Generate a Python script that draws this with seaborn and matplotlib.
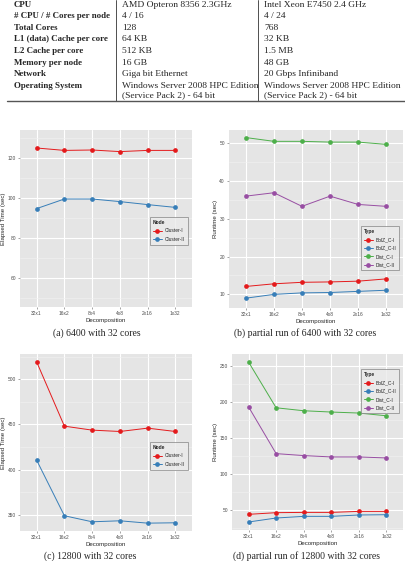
# cluster spec table + 4 runtime panels (ggplot look)

import seaborn as sns
import matplotlib.pyplot as plt
import pandas as pd
from matplotlib.ticker import MultipleLocator
from matplotlib.lines import Line2D

# ---- data ----
spec_names = ['CPU', '# CPU / # Cores per node', 'Total Cores', 'L1 (data) Cache per core',
              'L2 Cache per core', 'Memory per node', 'Network', 'Operating System']
spec_c1 = ['AMD Opteron 8356 2.3GHz', '4 / 16', '128', '64 KB', '512 KB', '16 GB',
           'Giga bit Ethernet', 'Windows Server 2008 HPC Edition\n(Service Pack 2) - 64 bit']
spec_c2 = ['Intel Xeon E7450 2.4 GHz', '4 / 24', '768', '32 KB', '1.5 MB', '48 GB',
           '20 Gbps Infiniband', 'Windows Server 2008 HPC Edition\n(Service Pack 2) - 64 bit']

decomp = ['32x1', '16x2', '8x4', '4x8', '2x16', '1x32']
nodes = ['Cluster-I', 'Cluster-II']
types = ['BolZ_C-I', 'BolZ_C-II', 'Dist_C-I', 'Dist_C-II']

a_c1 = [125.0, 123.8, 124.0, 123.2, 123.8, 123.8]
a_c2 = [94.7, 99.5, 99.5, 98.2, 96.7, 95.3]

b_bolz1 = [12.1, 12.8, 13.2, 13.3, 13.5, 14.1]
b_bolz2 = [9.0, 10.0, 10.4, 10.5, 10.8, 11.1]
b_dist1 = [51.5, 50.5, 50.5, 50.3, 50.3, 49.7]
b_dist2 = [36.0, 36.9, 33.3, 36.0, 33.8, 33.3]

c_c1 = [519.3, 448.1, 443.7, 442.2, 445.9, 442.2]
c_c2 = [410.4, 348.9, 342.2, 343.3, 340.7, 341.1]

d_bolz1 = [44.5, 46.8, 47.2, 47.2, 48.6, 48.6]
d_bolz2 = [33.9, 39.4, 41.7, 41.7, 43.6, 44.0]
d_dist1 = [255.5, 192.1, 188.0, 186.2, 184.8, 181.0]
d_dist2 = [193.4, 128.6, 125.9, 124.0, 124.0, 122.6]

set1 = ['#E41A1C', '#377EB8', '#4DAF4A', '#984EA3']

sns.set_style('darkgrid', {'axes.facecolor': '#E5E5E5', 'grid.color': 'white'})
plt.rcParams['font.family'] = ['Liberation Sans', 'DejaVu Sans']

W, H = 406, 561
fig = plt.figure(figsize=(W / 100, H / 100), dpi=100)
SERIF = ['Liberation Serif', 'DejaVu Serif']


def px(l, r, t, b):
    return [l / W, 1 - b / H, (r - l) / W, (b - t) / H]


# ---- table ----
tab = fig.add_axes([0, 1 - 105 / H, 1, 105 / H])
tab.set_xlim(0, W)
tab.set_ylim(105, 0)
tab.axis('off')
for i, name in enumerate(spec_names):
    y = 4.6 + i * 11.6
    tab.text(14, y, name, ha='left', va='center', fontsize=6.4, fontweight='bold', family=SERIF)
    for x, val in [(122, spec_c1[i]), (264, spec_c2[i])]:
        for j, line in enumerate(val.split('\n')):
            tab.text(x, y + j * 9.4, line, ha='left', va='center', fontsize=6.8, family=SERIF)
tab.add_line(Line2D([116, 116], [0, 100.5], color='#333333', lw=0.6))
tab.add_line(Line2D([258, 258], [0, 100.5], color='#333333', lw=0.6))
tab.add_line(Line2D([7, W], [100.5, 100.5], color='#555555', lw=1.0))


# ---- panels ----
def panel(rect, series, names, colors, title, ylabel, ylim, major, leg_xy, caption, cap_xy):
    df = pd.DataFrame({'Decomposition': decomp * len(series),
                       'value': [v for s in series for v in s],
                       title: [n for n in names for _ in decomp]})
    ax = fig.add_axes(rect)
    sns.lineplot(data=df, x='Decomposition', y='value', hue=title, hue_order=names,
                 palette=colors, marker='o', markersize=3.4, markeredgewidth=0,
                 linewidth=0.7, sort=False, ax=ax)
    ax.set_xlim(-0.6, 5.6)
    ax.set_ylim(*ylim)
    ax.yaxis.set_major_locator(MultipleLocator(major))
    ax.yaxis.set_minor_locator(MultipleLocator(major / 2))
    ax.grid(which='major', color='white', lw=0.8)
    ax.grid(which='minor', axis='y', color='#F2F2F2', lw=0.4)
    for s in ax.spines.values():
        s.set_visible(False)
    ax.tick_params(which='major', length=1.5, width=0.5, color='#7F7F7F', pad=1.5,
                   labelsize=3.5, labelcolor='#4D4D4D', bottom=True, left=True)
    ax.tick_params(which='minor', length=0)
    ax.set_xlabel('Decomposition', fontsize=4.4, labelpad=1)
    ax.set_ylabel(ylabel, fontsize=4.4, labelpad=1)
    leg = ax.legend(title=title, loc='upper left', bbox_to_anchor=leg_xy, borderaxespad=0,
                    fontsize=3.5, title_fontsize=3.5, frameon=True, fancybox=False,
                    handlelength=1.8, handletextpad=0.6, labelspacing=0.7,
                    borderpad=0.6, alignment='left')
    leg.get_title().set_fontweight('bold')
    leg.get_frame().set_facecolor('#EBEBEB')
    leg.get_frame().set_edgecolor('#7F7F7F')
    leg.get_frame().set_linewidth(0.6)
    fig.text(cap_xy[0] / W, 1 - cap_xy[1] / H, caption, ha='center', va='center',
             fontsize=7, family=SERIF)
    return ax


panel(px(20, 192, 130, 307), [a_c1, a_c2], nodes, set1[:2], 'Node',
      'Elapsed Time (sec)', (45.5, 134), 20, (0.756, 0.508),
      '(a) 6400 with 32 cores', (97, 333))
panel(px(229, 403, 130, 308), [b_bolz1, b_bolz2, b_dist1, b_dist2], types, set1, 'Type',
      'Runtime (sec)', (6.4, 53.5), 10, (0.759, 0.461),
      '(b) partial run of 6400 with 32 cores', (305, 333))
panel(px(20, 192, 354, 531), [c_c1, c_c2], nodes, set1[:2], 'Node',
      'Elapsed Time (sec)', (332, 528), 50, (0.756, 0.503),
      '(c) 12800 with 32 cores', (90, 556))
panel(px(232, 403, 354, 530), [d_bolz1, d_bolz2, d_dist1, d_dist2], types, set1, 'Type',
      'Runtime (sec)', (22.8, 266.6), 50, (0.754, 0.915),
      '(d) partial run of 12800 with 32 cores', (307, 556))

fig.savefig('out.png', dpi=100)
